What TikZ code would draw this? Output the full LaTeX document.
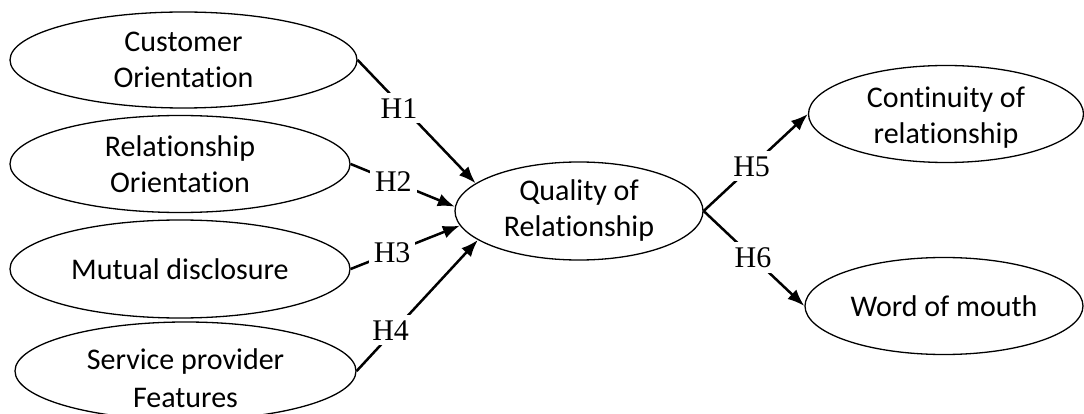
\documentclass[tikz,border=0pt]{standalone}
\usepackage{fontspec}
\setmainfont{Carlito}[Ligatures=NoCommon]
\newfontfamily\tnr{Liberation Serif}
\usetikzlibrary{shapes.geometric,arrows.meta}
\begin{document}
\begin{tikzpicture}[x=1pt,y=-1pt,
  txt/.style={align=center,inner sep=0pt,font=\fontsize{30}{36}\selectfont},
  ell/.style={ellipse,draw=black,line width=1.3pt,inner sep=0pt,txt},
  hyp/.style={fill=white,inner sep=5pt,font=\tnr\fontsize{30}{32}\selectfont},
  conn/.style={line width=2.5pt,-{Latex[length=17pt,width=13pt]}}
]
\useasboundingbox (0,0) rectangle (1084,414);
\clip (0,0) rectangle (1084,414);
\node[ell,minimum width=347pt,minimum height=96pt] (co) at (183.5,60) {Customer\\Orientation};
\node[ell,minimum width=340pt,minimum height=97pt] (ro) at (180,164) {Relationship\\Orientation};
\node[ell,minimum width=340pt,minimum height=98pt] (md) at (180,269) {Mutual disclosure};
\node[ell,minimum width=341pt,minimum height=98pt,
  label={[txt,yshift=-7pt,font=\fontsize{30}{38}\selectfont]center:Service provider\\Features}] (sp) at (185.5,371) {};
\node[ell,minimum width=248pt,minimum height=98pt] (q) at (579,211) {Quality of\\Relationship};
\node[ell,minimum width=275pt,minimum height=97pt,
  label={[txt,yshift=-4pt]center:Continuity of\\relationship}] (c) at (946,114) {};
\node[ell,minimum width=278pt,minimum height=97pt] (w) at (944,306) {Word of mouth};
\draw[conn] (co.east) -- node[hyp,pos=0.35,yshift=-5pt] (h1) {H1} (q.165);
\draw[conn] (ro.east) -- node[hyp,pos=0.41] (h2) {H2} (q.178);
\draw[conn] (md.east) -- node[hyp,pos=0.38] (h3) {H3} (q.187);
\draw[conn] (sp.east) -- node[hyp,pos=0.28,yshift=4pt] (h4) {H4} (q.196);
\draw[conn] (q.east) -- node[hyp,pos=0.46] (h5) {H5} (c.west);
\draw[conn] (q.east) -- node[hyp,pos=0.49] (h6) {H6} (w.west);
\end{tikzpicture}
\end{document}
